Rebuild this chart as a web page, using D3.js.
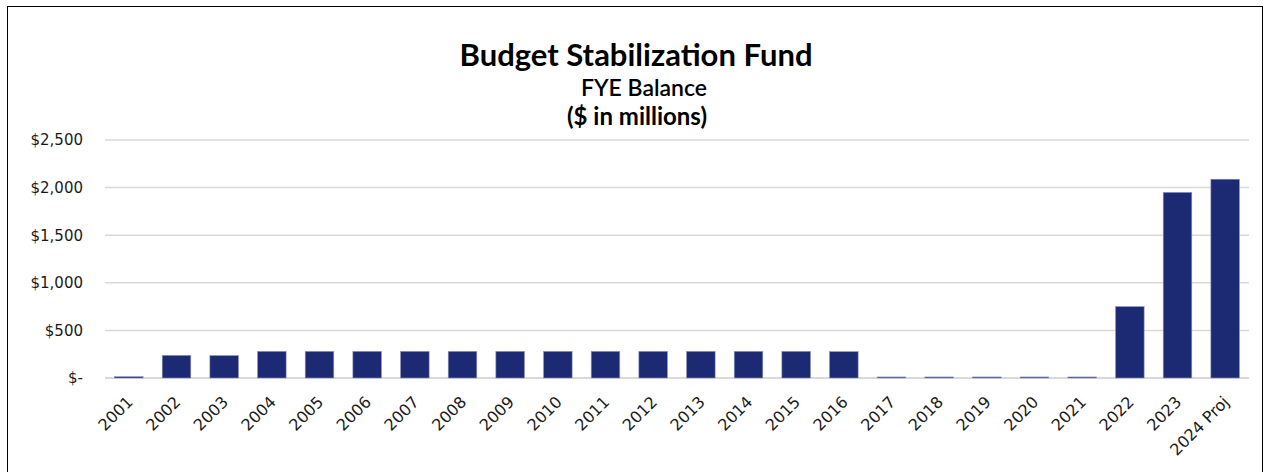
<!DOCTYPE html>
<html lang="en">
<head>
    <meta charset="UTF-8">
    <title>Budget Stabilization Fund</title>
    <script src="https://d3js.org/d3.v7.min.js"></script>
    <style>
        html, body {
            margin: 0;
            padding: 0;
            background: white;
        }
        .chart-title {
            font-family: 'Lato', sans-serif;
            fill: black;
        }
        .axis text {
            font-family: 'DejaVu Sans', sans-serif;
            font-size: 15px;
            fill: #1a1a1a;
        }
    </style>
</head>
<body>
    <div class="content"></div>
    <script>
        // values ($ millions)
        const years = ["2001", "2002", "2003", "2004", "2005", "2006", "2007", "2008",
            "2009", "2010", "2011", "2012", "2013", "2014", "2015", "2016", "2017",
            "2018", "2019", "2020", "2021", "2022", "2023", "2024 Proj"];
        const balances = [14, 238, 236, 280, 280, 280, 280, 280, 280, 280, 280, 280,
            280, 280, 280, 277, 11, 11, 11, 11, 11, 750, 1950, 2088];
        const yTicks = [0, 500, 1000, 1500, 2000, 2500];

        const data = years.map((y, i) => ({ year: y, value: balances[i] }));

        const w = 1268;
        const h = 472;
        const margin = { top: 140, right: 19, bottom: 94, left: 105 };

        const svg = d3.select(".content")
            .append("svg")
            .attr("width", w)
            .attr("height", h);

        // outer frame
        svg.append("rect")
            .attr("x", 7.5)
            .attr("y", 6.5)
            .attr("width", 1255)
            .attr("height", 480)
            .attr("fill", "none")
            .attr("stroke", "black")
            .attr("stroke-width", 1);

        const x = d3.scaleBand()
            .domain(years)
            .range([margin.left, w - margin.right])
            .paddingInner(0.4)
            .paddingOuter(0.2);

        const y = d3.scaleLinear()
            .domain([0, 2500])
            .range([h - margin.bottom, margin.top]);

        // gridlines
        svg.append("g")
            .selectAll("line")
            .data(yTicks)
            .enter()
            .append("line")
            .attr("x1", margin.left)
            .attr("x2", w - margin.right)
            .attr("y1", d => y(d))
            .attr("y2", d => y(d))
            .attr("stroke", "#d9d9d9")
            .attr("stroke-width", d => d === 0 ? 2 : 1.5);

        svg.selectAll("rect.bar")
            .data(data)
            .enter()
            .append("rect")
            .attr("class", "bar")
            .attr("x", d => x(d.year))
            .attr("y", d => y(d.value))
            .attr("width", x.bandwidth())
            .attr("height", d => y(0) - y(d.value))
            .attr("fill", "#1c2a74")
            .attr("stroke", "#8f97c0")
            .attr("stroke-width", 0.6);

        const fmt = d => d === 0 ? "$-" : "$" + d3.format(",")(d);

        const yAxis = svg.append("g")
            .attr("class", "axis")
            .attr("transform", `translate(${margin.left - 22},0)`)
            .call(d3.axisLeft(y).tickValues(yTicks).tickFormat(fmt).tickSize(0).tickPadding(0));
        yAxis.select(".domain").remove();

        const xAxis = svg.append("g")
            .attr("class", "axis")
            .attr("transform", `translate(0,${h - margin.bottom})`)
            .call(d3.axisBottom(x).tickSize(0).tickPadding(0));
        xAxis.select(".domain").remove();
        xAxis.selectAll("text")
            .attr("text-anchor", "end")
            .attr("dy", null)
            .attr("y", 0)
            .style("font-size", "16px")
            .attr("transform", "translate(5,25) rotate(-45)");

        // titles
        svg.append("text")
            .attr("class", "chart-title")
            .attr("x", 636)
            .attr("y", 66)
            .attr("text-anchor", "middle")
            .attr("font-size", "31px")
            .attr("font-weight", "bold")
            .text("Budget Stabilization Fund");

        svg.append("text")
            .attr("class", "chart-title")
            .attr("x", 644)
            .attr("y", 96)
            .attr("text-anchor", "middle")
            .attr("font-size", "23px")
            .attr("font-weight", "600")
            .text("FYE Balance");

        svg.append("text")
            .attr("class", "chart-title")
            .attr("x", 637)
            .attr("y", 125)
            .attr("text-anchor", "middle")
            .attr("font-size", "24px")
            .attr("font-weight", "bold")
            .text("($ in millions)");
    </script>
</body>
</html>
